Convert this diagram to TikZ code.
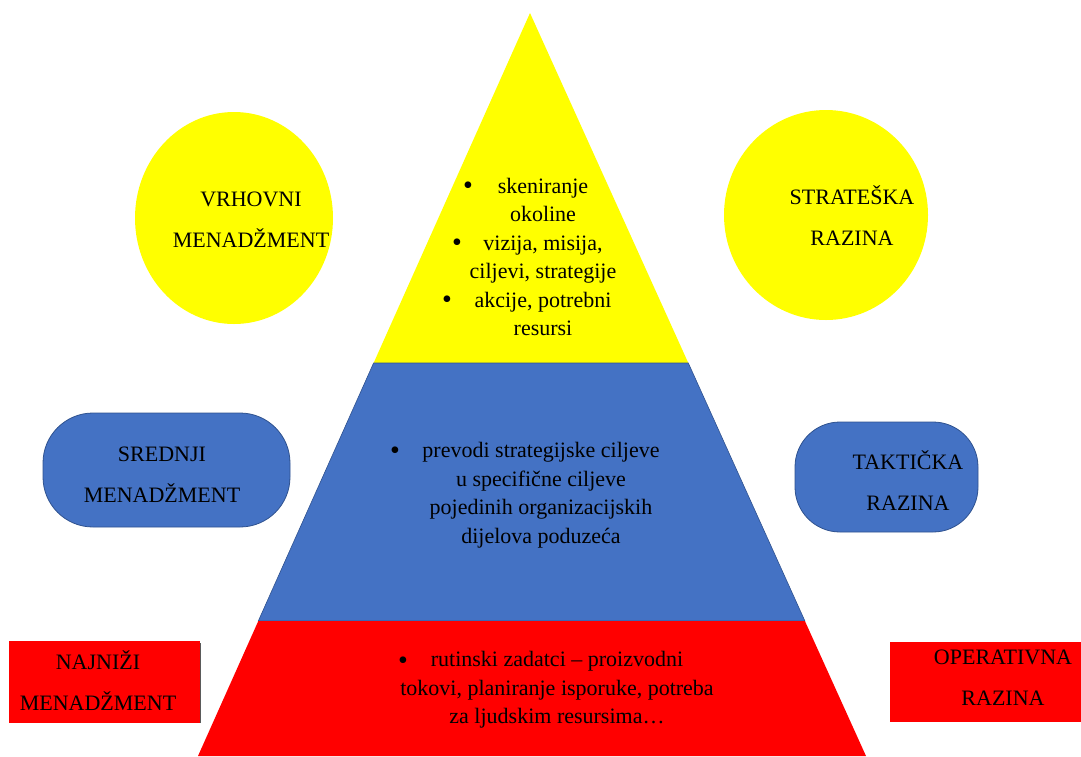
\documentclass[tikz,border=0pt]{standalone}
\usepackage{fontspec}
\setmainfont{Liberation Serif}
\newfontfamily\pyrfont{Liberation Serif}
\usetikzlibrary{positioning}
\definecolor{pyryellow}{RGB}{255,255,0}
\definecolor{pyrblue}{RGB}{68,114,196}
\definecolor{pyrred}{RGB}{255,0,0}
\definecolor{pyredge}{RGB}{47,82,143}
\definecolor{pyrshade}{RGB}{90,90,90}

\tikzset{
  lvltext/.style={font=\pyrfont\fontsize{22}{41}\selectfont, align=center, inner sep=0pt},
  pyrtext/.style={font=\pyrfont\fontsize{22}{28.5}\selectfont, align=center, inner sep=0pt},
  bulletdot/.style={font=\pyrfont\fontsize{28}{28}\selectfont, inner sep=0pt}
}

\begin{document}
\begin{tikzpicture}[x=1pt,y=-1pt]
\useasboundingbox (0,0) rectangle (1081,756);
% Pyramid corners
\coordinate (apex) at (530,13);
\coordinate (yl) at (373.6,363);
\coordinate (yr) at (688.3,363);
\coordinate (bl) at (258.3,621);
\coordinate (br) at (804.9,621);
\coordinate (rl) at (198,756);
\coordinate (rr) at (866,756);
% Top level: yellow
\fill[pyryellow] (apex) -- (yr) -- (yl) -- cycle;
% Middle level: blue
\filldraw[fill=pyrblue, draw=pyredge, line width=0.6pt] (yl) -- (yr) -- (br) -- (bl) -- cycle;
% Bottom level: red
\fill[pyrred] (bl) -- (br) -- (rr) -- (rl) -- cycle;
% Side shapes
\fill[pyryellow] (234,218) ellipse [x radius=99, y radius=106];
\fill[pyryellow] (826,215) ellipse [x radius=102, y radius=105];
\filldraw[fill=pyrblue, draw=pyredge, line width=0.8pt, rounded corners=50pt]
  (43,413) rectangle (290,527);
\filldraw[fill=pyrblue, draw=pyredge, line width=0.8pt, rounded corners=45pt]
  (795,422) rectangle (978,532);
\fill[pyrred] (9,641) rectangle (200,723);
\draw[pyrshade, line width=1.2pt] (200.5,643) -- (200.5,723);
\fill[pyrred] (890,642) rectangle (1081,722);
% Left labels
\node[lvltext] (vrhovni) at (251,220) {VRHOVNI\\MENADŽMENT};
\node[lvltext] (srednji) at (162,475) {SREDNJI\\MENADŽMENT};
\node[lvltext] (najnizi) at (98,681) {NAJNIŽI\\MENADŽMENT};
% Right labels
\node[lvltext] (strateska) at (852,216) {STRATEŠKA\\RAZINA};
\node[lvltext] (takticka) at (908,481) {TAKTIČKA\\RAZINA};
\node[lvltext] (operativna) at (1003,678) {OPERATIVNA\\RAZINA};
% Pyramid contents
\node[pyrtext] (toptxt) at (543,257)
  {skeniranje\\okoline\\vizija, misija,\\ciljevi, strategije\\akcije, potrebni\\resursi};
\node[bulletdot] (topdota) at (468,188) {\textbullet};
\node[bulletdot] (topdotb) at (457,245) {\textbullet};
\node[bulletdot] (topdotc) at (447,302) {\textbullet};
\node[pyrtext] (midtxt) at (541,495)
  {prevodi strategijske ciljeve\\u specifične ciljeve\\pojedinih organizacijskih\\dijelova poduzeća};
\node[bulletdot] (middot) at (395,453) {\textbullet};
\node[pyrtext] (lowtxt) at (557,690)
  {rutinski zadatci – proizvodni\\tokovi, planiranje isporuke, potreba\\za ljudskim resursima…};
\node[bulletdot] (lowdot) at (403,663) {\textbullet};
\end{tikzpicture}
\end{document}
